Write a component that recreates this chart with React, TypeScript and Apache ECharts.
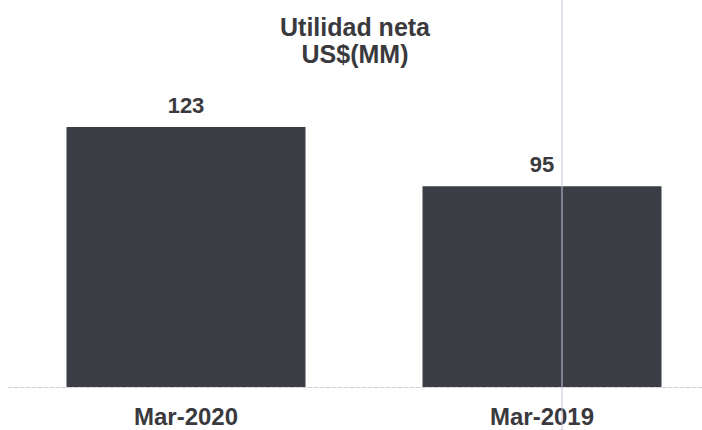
import React, { useEffect, useRef } from "react";
import * as echarts from "echarts";

const categories = ["Mar-2020", "Mar-2019"];
const values = [123, 95];
const titleLines = ["Utilidad neta", "US$(MM)"];

export default function App() {
  const ref = useRef<HTMLDivElement>(null);
  useEffect(() => {
    if (!ref.current) return;
    const chart = echarts.init(ref.current, null, { renderer: "svg" });
    chart.setOption({
      animation: false,
      backgroundColor: "#ffffff",
      title: {
        text: titleLines.join("\n"),
        left: 350,
        textAlign: "center",
        top: 8,
        textStyle: {
          fontFamily: "'Liberation Sans', Arial, sans-serif",
          fontWeight: "bold",
          fontSize: 25,
          lineHeight: 27,
          color: "#3a3a3e",
        },
      },
      grid: { left: 8, right: -18, top: 70, height: 317, outerBoundsMode: "none", containLabel: false },
      xAxis: {
        type: "category",
        data: categories,
        axisTick: { show: false },
        axisLine: { show: true, lineStyle: { color: "#cfcfd4", type: "dashed", width: 1 } },
        axisLabel: {
          margin: 17,
          fontFamily: "'Liberation Sans', Arial, sans-serif",
          fontWeight: "bold",
          fontSize: 24,
          color: "#3a3a3e",
        },
      },
      yAxis: {
        type: "value",
        min: 0,
        max: 150,
        show: false,
        splitLine: { show: false },
      },
      series: [
        {
          type: "bar",
          data: values,
          barWidth: 239,
          itemStyle: { color: "#3c3e46" },
          label: {
            show: true,
            position: "top",
            distance: 11,
            fontFamily: "'Liberation Sans', Arial, sans-serif",
            fontWeight: "bold",
            fontSize: 22,
            color: "#3a3a3e",
          },
        },
      ],
      graphic: [
        {
          type: "line",
          shape: { x1: 562, y1: 0, x2: 562, y2: 430 },
          style: { stroke: "#c9c2e2", lineWidth: 1 },
          z: 100,
        },
      ],
    });
    return () => chart.dispose();
  }, []);
  return <div ref={ref} style={{ width: 702, height: 430, position: "fixed", left: 0, top: 0 }} />;
}
